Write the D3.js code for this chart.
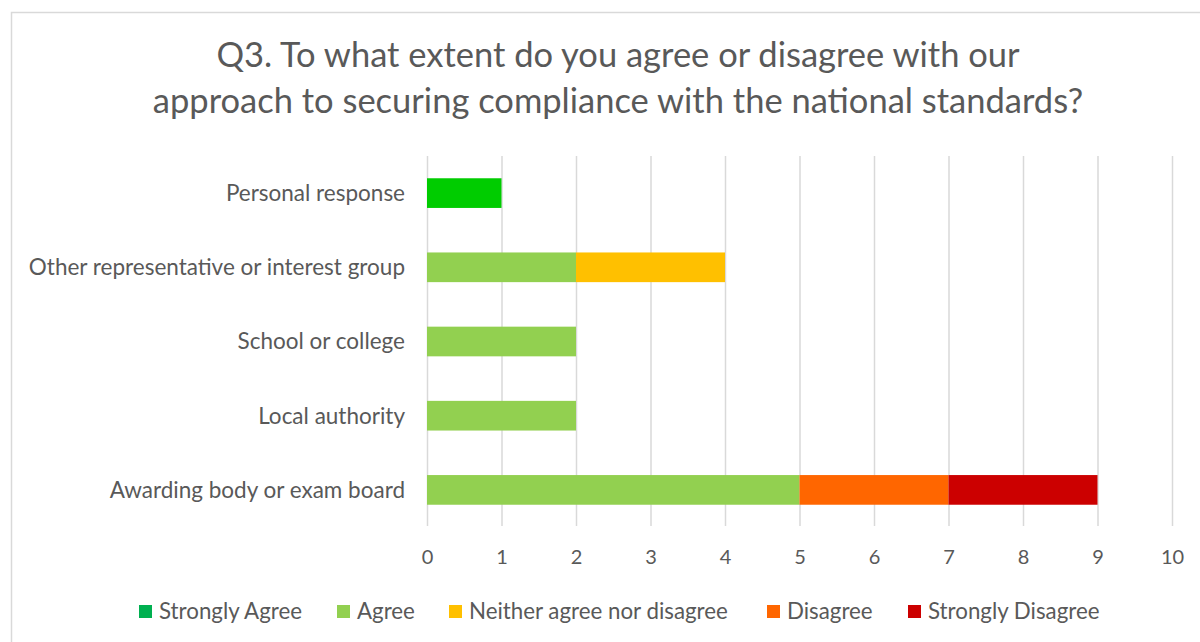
<!DOCTYPE html>
<html>
<head>
<meta charset="utf-8">
<script src="https://cdn.jsdelivr.net/npm/d3@7"></script>
<style>
  html, body { margin: 0; padding: 0; background: #fff; }
  svg { display: block; font-family: Lato, "Open Sans", sans-serif; }
</style>
</head>
<body>
<svg id="chart" width="1200" height="642"></svg>
<script>
// Respondent groups, listed top to bottom
const categories = [
  "Personal response",
  "Other representative or interest group",
  "School or college",
  "Local authority",
  "Awarding body or exam board"
];

// Number of responses per group for each answer
const strongA  = [1, 0, 0, 0, 0];
const agree    = [0, 2, 2, 2, 5];
const neither  = [0, 2, 0, 0, 0];
const disagree = [0, 0, 0, 0, 2];
const strongD  = [0, 0, 0, 0, 2];

const seriesNames = ["Strongly Agree", "Agree", "Neither agree nor disagree", "Disagree", "Strongly Disagree"];
const seriesColors = ["#00B050", "#92D050", "#FFC000", "#FF6600", "#CC0000"];
const xTicks = [0, 1, 2, 3, 4, 5, 6, 7, 8, 9, 10];

const titleLines = [
  "Q3. To what extent do you agree or disagree with our",
  "approach to securing compliance with the national standards?"
];

const seriesValues = [strongA, agree, neither, disagree, strongD];
const rows = categories.map((c, i) => {
  const r = { category: c };
  seriesNames.forEach((s, j) => r[s] = seriesValues[j][i]);
  return r;
});

const svg = d3.select("#chart");

// chart frame
svg.append("rect")
  .attr("x", 11.5).attr("y", 12.5)
  .attr("width", 1200).attr("height", 640)
  .attr("fill", "#fff").attr("stroke", "#d9d9d9").attr("stroke-width", 1.5);

// title
svg.append("g").selectAll("text").data(titleLines).join("text")
  .attr("x", 618).attr("y", (d, i) => 67 + i * 46)
  .attr("text-anchor", "middle")
  .attr("font-size", 34.5)
  .attr("fill", "#595959")
  .text(d => d);

const x = d3.scaleLinear().domain([0, 10]).range([427, 1172]);
const y = d3.scaleBand().domain(categories).range([156, 527]).paddingInner(0.6).paddingOuter(0.3);

// vertical gridlines
svg.append("g").selectAll("line").data(xTicks).join("line")
  .attr("x1", d => x(d) + 0.5).attr("x2", d => x(d) + 0.5)
  .attr("y1", 156).attr("y2", 526)
  .attr("stroke", "#d9d9d9").attr("stroke-width", 1.5);

// stacked bars
const stack = d3.stack().keys(seriesNames)(rows);
const color = d3.scaleOrdinal().domain(seriesNames).range(seriesColors);

svg.append("g").selectAll("g").data(stack).join("g")
  .each(function (layer) {
    d3.select(this).selectAll("rect")
      .data(layer.filter(d => d[1] > d[0]))
      .join("rect")
      .attr("x", d => x(d[0]))
      .attr("width", d => x(d[1]) - x(d[0]))
      .attr("y", d => y(d.data.category))
      .attr("height", y.bandwidth())
      // the single personal response is shown in a brighter green
      .attr("fill", d => (layer.key === "Strongly Agree" && d.data.category === "Personal response") ? "#00CC00" : color(layer.key));
  });

// category axis
const yAxis = svg.append("g").attr("transform", "translate(405,0)")
  .call(d3.axisLeft(y).tickSize(0).tickPadding(0));
yAxis.select(".domain").remove();
yAxis.selectAll("text").attr("font-size", 22.5).attr("fill", "#595959")
  .attr("font-family", "Lato, 'Open Sans', sans-serif").attr("dy", "0.35em");

// value axis labels
const xAxis = svg.append("g").attr("transform", "translate(0,526)")
  .call(d3.axisBottom(x).tickValues(xTicks).tickSize(0).tickPadding(24).tickFormat(d3.format("d")));
xAxis.select(".domain").remove();
xAxis.selectAll("text").attr("font-size", 20).attr("fill", "#595959")
  .attr("font-family", "Lato, 'Open Sans', sans-serif");

// legend
const legendX = [139, 337, 449, 767, 908];
const lg = svg.append("g").selectAll("g").data(seriesNames).join("g")
  .attr("transform", (d, i) => `translate(${legendX[i]},605)`);
lg.append("rect").attr("width", 13).attr("height", 13).attr("fill", d => color(d));
lg.append("text").attr("x", 20).attr("y", 6.5).attr("dy", "0.35em")
  .attr("font-size", 22.3).attr("fill", "#595959").text(d => d);
</script>
</body>
</html>
